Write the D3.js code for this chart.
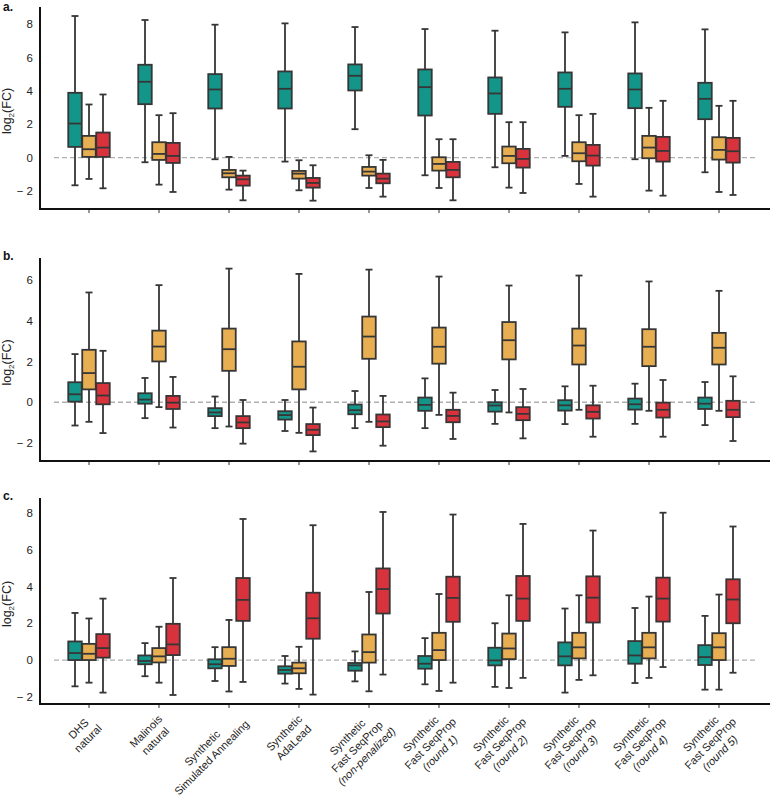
<!DOCTYPE html>
<html>
<head>
<meta charset="utf-8">
<script src="https://cdn.jsdelivr.net/npm/d3@7"></script>
<style>
  html, body { margin: 0; padding: 0; background: #fff; }
  svg { display: block; font-family: "Liberation Sans", Arial, Helvetica, sans-serif; }
</style>
</head>
<body>
<svg id="chart" width="770" height="798"></svg>
<script>
// ---------- DATA ----------
const categories = [
  "DHS natural", "Malinois natural", "Synthetic Simulated Annealing", "Synthetic AdaLead",
  "Synthetic Fast SeqProp (non-penalized)", "Synthetic Fast SeqProp (round 1)",
  "Synthetic Fast SeqProp (round 2)", "Synthetic Fast SeqProp (round 3)",
  "Synthetic Fast SeqProp (round 4)", "Synthetic Fast SeqProp (round 5)"
];
const labelLines = [
  ["DHS", "natural"], ["Malinois", "natural"], ["Synthetic", "Simulated Annealing"],
  ["Synthetic", "AdaLead"], ["Synthetic", "Fast SeqProp", "(non-penalized)"],
  ["Synthetic", "Fast SeqProp", "(round 1)"], ["Synthetic", "Fast SeqProp", "(round 2)"],
  ["Synthetic", "Fast SeqProp", "(round 3)"], ["Synthetic", "Fast SeqProp", "(round 4)"],
  ["Synthetic", "Fast SeqProp", "(round 5)"]
];
const seriesColors = ["#13958a", "#e8ae52", "#d8323d"];
const yTicks = [-2, 0, 2, 4, 6, 8];
const yTicksB = [-2, 0, 2, 4, 6];

// each box: [whisker low, Q1, median, Q3, whisker high]
const aTeal = [[-1.66,0.64,2.04,3.88,8.48],[-0.28,3.2,4.54,5.56,8.24],[-0.1,2.94,4.08,5.0,7.96],[-0.24,2.94,4.12,5.16,8.04],[1.7,4.02,4.9,5.58,7.82],[-1.06,2.52,4.22,5.28,7.7],[-0.58,2.62,3.84,4.8,7.6],[0.1,3.04,4.12,5.1,7.5],[-0.1,2.96,4.08,5.04,8.1],[-0.88,2.3,3.52,4.48,7.68]];
const aOrange = [[-1.28,0.04,0.5,1.3,3.18],[-1.62,-0.14,0.22,0.92,2.54],[-1.92,-1.18,-0.94,-0.74,0.04],[-1.96,-1.26,-0.96,-0.8,-0.16],[-1.82,-1.08,-0.84,-0.56,0.14],[-1.82,-0.78,-0.38,0.02,1.1],[-1.8,-0.34,0.1,0.66,2.12],[-1.58,-0.22,0.26,0.92,2.54],[-1.98,-0.04,0.6,1.3,2.98],[-2.06,-0.12,0.46,1.22,3.1]];
const aRed = [[-1.84,0.04,0.6,1.5,3.78],[-2.06,-0.32,0.1,0.88,2.66],[-2.56,-1.68,-1.3,-1.08,-0.78],[-2.58,-1.8,-1.52,-1.22,-0.46],[-2.34,-1.54,-1.26,-0.96,-0.14],[-2.56,-1.18,-0.74,-0.26,1.1],[-2.12,-0.6,-0.08,0.52,2.12],[-2.34,-0.48,0.12,0.76,2.62],[-2.28,-0.24,0.4,1.24,3.4],[-2.24,-0.3,0.38,1.18,3.4]];

const bTeal = [[-1.14,0.03,0.39,0.98,2.36],[-0.78,-0.07,0.13,0.44,1.19],[-1.27,-0.68,-0.5,-0.29,0.28],[-1.41,-0.85,-0.63,-0.44,0.11],[-1.27,-0.59,-0.39,-0.11,0.55],[-1.27,-0.42,-0.13,0.23,1.17],[-1.06,-0.46,-0.16,0.0,0.6],[-1.07,-0.41,-0.15,0.1,0.78],[-1.06,-0.36,-0.1,0.18,0.91],[-1.12,-0.33,-0.07,0.23,0.99]];
const bOrange = [[-0.96,0.63,1.43,2.57,5.38],[-0.24,2.0,2.73,3.51,5.74],[-1.19,1.54,2.6,3.61,6.55],[-1.5,0.63,1.74,2.98,6.29],[-0.96,2.13,3.22,4.2,6.5],[-0.62,1.89,2.72,3.66,6.16],[-0.5,2.1,3.04,3.93,5.72],[-0.37,1.85,2.78,3.61,6.21],[-0.42,1.77,2.72,3.58,5.92],[-0.42,1.85,2.67,3.4,5.46]];
const bRed = [[-1.51,-0.1,0.33,0.94,2.52],[-1.24,-0.33,-0.02,0.31,1.24],[-2.03,-1.27,-0.99,-0.68,0.11],[-2.41,-1.61,-1.35,-1.07,-0.26],[-2.13,-1.22,-0.94,-0.6,0.31],[-1.8,-0.98,-0.67,-0.37,0.47],[-1.77,-0.88,-0.57,-0.24,0.65],[-1.69,-0.8,-0.47,-0.15,0.81],[-1.69,-0.75,-0.37,-0.02,1.09],[-1.9,-0.73,-0.37,0.07,1.27]];

const cTeal = [[-1.43,0.0,0.38,1.01,2.56],[-0.88,-0.23,-0.05,0.25,0.92],[-1.14,-0.45,-0.23,0.04,0.7],[-1.28,-0.74,-0.54,-0.34,0.22],[-1.16,-0.58,-0.29,-0.16,0.47],[-1.32,-0.47,-0.2,0.22,1.19],[-1.46,-0.29,-0.02,0.67,2.0],[-1.77,-0.29,0.2,0.96,2.8],[-1.25,-0.2,0.25,1.03,2.83],[-1.61,-0.27,0.16,0.81,2.4]];
const cOrange = [[-1.23,0.0,0.34,0.88,2.26],[-1.23,-0.13,0.2,0.65,1.81],[-1.71,-0.32,0.07,0.7,2.18],[-1.57,-0.72,-0.45,-0.14,0.72],[-1.7,-0.14,0.43,1.39,3.7],[-1.68,0.0,0.54,1.48,3.59],[-1.52,0.05,0.63,1.44,3.52],[-1.08,0.09,0.69,1.48,3.52],[-0.97,0.09,0.69,1.48,3.45],[-1.61,0.0,0.69,1.46,3.56]];
const cRed = [[-1.77,0.13,0.65,1.41,3.34],[-1.9,0.27,0.85,1.97,4.46],[-1.19,2.13,3.27,4.46,7.67],[-1.88,1.16,2.27,3.66,7.33],[-0.79,2.53,3.86,4.98,8.05],[-1.23,2.08,3.38,4.53,7.91],[-0.97,2.13,3.34,4.57,7.4],[-0.83,2.04,3.39,4.55,7.04],[-0.38,2.09,3.34,4.48,8.01],[-0.69,2.0,3.29,4.39,7.26]];

// ---------- LAYOUT ----------
const panels = [
  { label: "a.", top: 7,   bottom: 209, domain: [-3.08, 9.02], ticks: yTicks,  series: [aTeal, aOrange, aRed] },
  { label: "b.", top: 258, bottom: 461, domain: [-2.88, 7.07], ticks: yTicksB, series: [bTeal, bOrange, bRed] },
  { label: "c.", top: 498, bottom: 704, domain: [-2.39, 8.81], ticks: yTicks,  series: [cTeal, cOrange, cRed] }
];
const axisLeft = 40, axisRight = 770;
const boxW = 13.5, offset = 14, capW = 7;
const stroke = "#363636";

const svg = d3.select("#chart");
const x = d3.scaleBand().domain(categories).range([54, 754]).padding(0);
const cx = c => x(c) + x.bandwidth() / 2;

panels.forEach((p, pi) => {
  const y = d3.scaleLinear().domain(p.domain).range([p.bottom, p.top]);
  const g = svg.append("g");

  g.append("line")
    .attr("x1", 54).attr("x2", 755)
    .attr("y1", y(0)).attr("y2", y(0))
    .attr("stroke", "#b0b0b0").attr("stroke-width", 1.3)
    .attr("stroke-dasharray", "5,3");

  p.series.forEach((ser, si) => {
    const dx = (si - 1) * offset;
    ser.forEach((d, ci) => {
      const xc = cx(categories[ci]) + dx;
      const [lo, q1, med, q3, hi] = d;
      const bg = g.append("g");
      bg.append("line").attr("x1", xc).attr("x2", xc).attr("y1", y(hi)).attr("y2", y(q3))
        .attr("stroke", stroke).attr("stroke-width", 1.8);
      bg.append("line").attr("x1", xc).attr("x2", xc).attr("y1", y(q1)).attr("y2", y(lo))
        .attr("stroke", stroke).attr("stroke-width", 1.8);
      bg.append("line").attr("x1", xc - capW / 2).attr("x2", xc + capW / 2).attr("y1", y(hi)).attr("y2", y(hi))
        .attr("stroke", stroke).attr("stroke-width", 1.8);
      bg.append("line").attr("x1", xc - capW / 2).attr("x2", xc + capW / 2).attr("y1", y(lo)).attr("y2", y(lo))
        .attr("stroke", stroke).attr("stroke-width", 1.8);
      bg.append("rect").attr("x", xc - boxW / 2).attr("width", boxW)
        .attr("y", y(q3)).attr("height", y(q1) - y(q3))
        .attr("fill", seriesColors[si]).attr("stroke", stroke).attr("stroke-width", 1.8);
      bg.append("line").attr("x1", xc - boxW / 2).attr("x2", xc + boxW / 2).attr("y1", y(med)).attr("y2", y(med))
        .attr("stroke", stroke).attr("stroke-width", 1.8);
    });
  });

  const ya = g.append("g").attr("transform", `translate(${axisLeft},0)`)
    .call(d3.axisLeft(y).tickValues(p.ticks).tickSize(0).tickPadding(7)
      .tickFormat(v => v < 0 ? "\u2212 " + Math.abs(v) : String(v)));
  ya.select(".domain").remove();
  ya.selectAll("text").attr("font-size", 11.5).attr("fill", "#222")
    .attr("font-family", "'Liberation Sans', Arial, sans-serif");
  g.append("line").attr("x1", axisLeft).attr("x2", axisLeft).attr("y1", p.top).attr("y2", p.bottom + 1)
    .attr("stroke", "#111").attr("stroke-width", 2);

  const xa = g.append("g").attr("transform", `translate(0,${p.bottom})`)
    .call(d3.axisBottom(x).tickSize(4).tickFormat(""));
  xa.select(".domain").remove();
  xa.selectAll(".tick line").attr("stroke", "#333").attr("stroke-width", 1);
  g.append("line").attr("x1", axisLeft - 1).attr("x2", axisRight).attr("y1", p.bottom).attr("y2", p.bottom)
    .attr("stroke", "#111").attr("stroke-width", 2);

  const ymid = (p.top + p.bottom) / 2 + 3;
  const t = g.append("text")
    .attr("transform", `translate(11,${ymid}) rotate(-90)`)
    .attr("text-anchor", "middle").attr("font-size", 12.5).attr("fill", "#222");
  t.append("tspan").text("log");
  t.append("tspan").text("2").attr("font-size", 8).attr("dy", 3);
  t.append("tspan").text("(FC)").attr("dy", -3);

  svg.append("text").attr("x", 3).attr("y", pi === 0 ? 11 : p.top + 2)
    .attr("font-weight", "bold").attr("font-size", 12).attr("fill", "#111")
    .text(p.label);

  if (pi === panels.length - 1) {
    categories.forEach((c, ci) => {
      const lines = labelLines[ci];
      const n = lines.length;
      const lg = svg.append("g");
      const txt = lg.append("text").attr("font-size", 11).attr("fill", "#222").attr("text-anchor", "middle");
      const lh = 13.5;
      lines.forEach((ln, li) => {
        txt.append("tspan").attr("x", 0).attr("y", (li - (n - 1) / 2) * lh + 4)
          .attr("font-style", ln.startsWith("(") ? "italic" : "normal")
          .text(ln);
      });
      const w = txt.node().getBBox().width;
      txt.attr("transform", `translate(${-w / 2},0)`);
      const extra = n === 2 ? Math.max(0, w - 48) : 0;
      const px = cx(c) + (n === 3 ? 15 : 6) + extra * 0.14;
      const py = p.bottom + (n === 3 ? 15.5 : 17.5) - extra * 0.08;
      lg.attr("transform", `translate(${px},${py}) rotate(-45)`);
    });
  }
});
</script>
</body>
</html>
